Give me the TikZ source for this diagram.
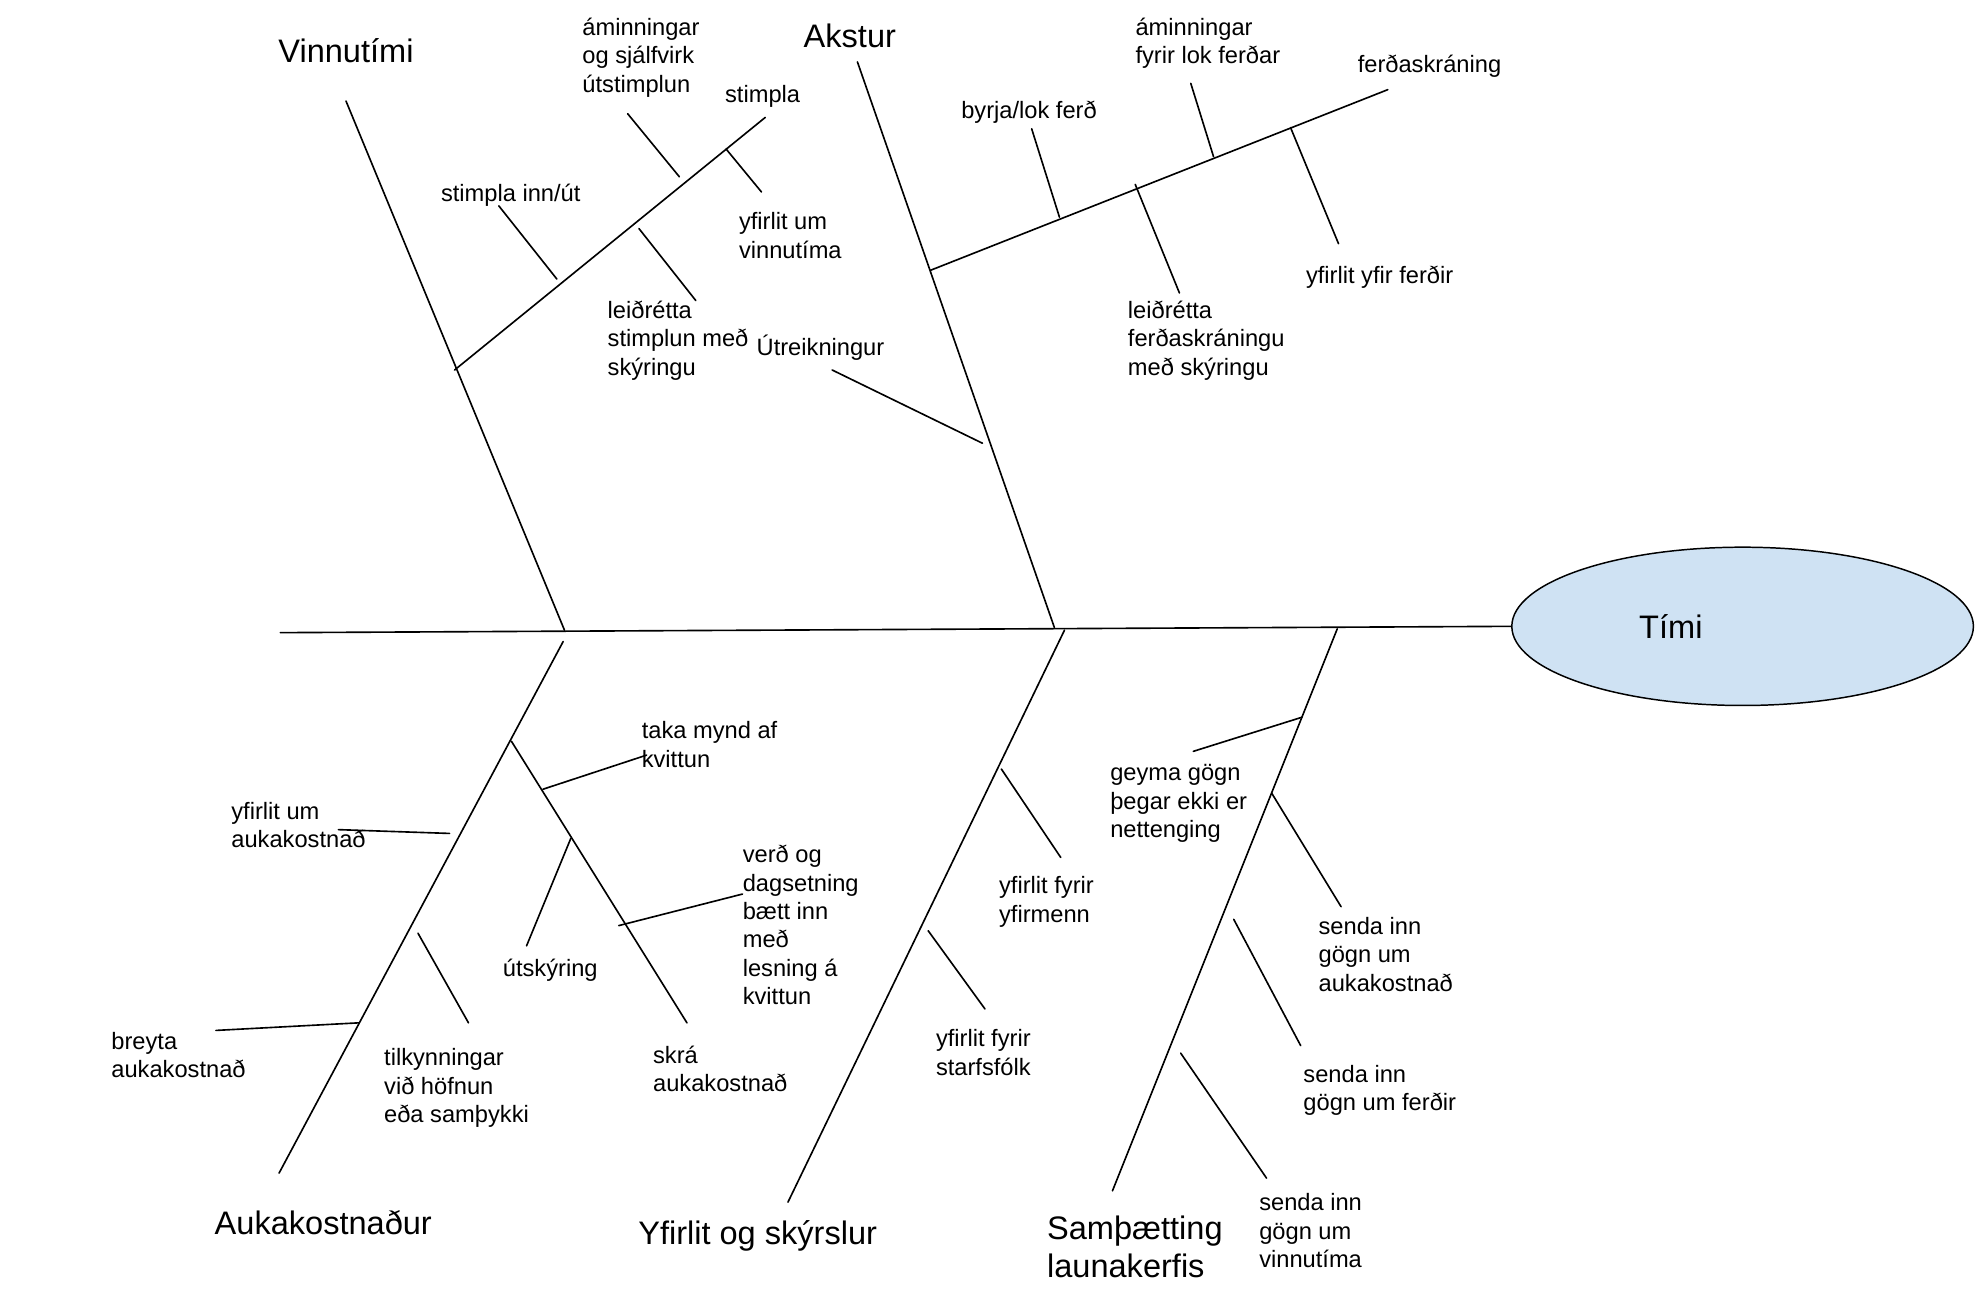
\documentclass[tikz,border=0pt]{standalone}
\usepackage{fontspec}
\setmainfont{Liberation Sans}
\usetikzlibrary{shapes.geometric}
\definecolor{ellfill}{RGB}{207,226,243}
\newcommand{\smallrule}{\rule{0pt}{15.5pt}}
\newcommand{\bigrule}{\rule{0pt}{21pt}}
\begin{document}
\begin{tikzpicture}[x=0.03cm,y=-0.03cm,
  bone/.style={line width=1.1pt, line cap=round},
  lab/.style={anchor=north west, inner sep=0pt, align=left,
    font=\fontsize{16}{19.2}\selectfont, yshift=10.2pt,
    execute at begin node=\smallrule},
  labml/.style={lab, yshift=-4.3pt},
  big/.style={inner sep=0pt, font=\fontsize{22}{25.6}\selectfont,
    text height=16pt, text depth=0pt},
  bigml/.style={anchor=north west, inner sep=0pt, align=left,
    font=\fontsize{22}{25.6}\selectfont, yshift=8.7pt,
    execute at begin node=\bigrule},
]
\useasboundingbox (0,0) rectangle (1568,1029);

% head
\node[ellipse, draw, line width=1pt, fill=ellfill, minimum width=312pt,
  minimum height=107pt, inner sep=0pt,
  font=\fontsize{22}{25.6}\selectfont] (timi) at (1380,496) {Tími\hspace*{97pt}};

% spine
\coordinate (sL) at (222,501);
\draw[bone] (sL) -- (timi.west);

% ---------- Vinnutími ----------
\node[big] (vinn) at (274,40) {Vinnutími};
\coordinate (v1) at (274,80);
\coordinate (v0) at (447,499);
\draw[bone] (v1) -- (v0);
\coordinate (vs0) at (360,293);
\coordinate (vs1) at (606,93);
\draw[bone] (vs0) -- (vs1);
\node[lab] (stimpla) at (574,75) {stimpla};
\node[lab] (stimplainn) at (349,153) {stimpla inn/út};
\coordinate (va1) at (395,163); \coordinate (va2) at (441,221);
\draw[bone] (va1) -- (va2);
\node[labml] (amin1) at (461,21) {áminningar\\og sjálfvirk\\útstimplun};
\coordinate (vb1) at (497,90); \coordinate (vb2) at (538,140);
\draw[bone] (vb1) -- (vb2);
\node[labml] (leid1) at (481,245) {leiðrétta\\stimplun með\\skýringu};
\coordinate (vc1) at (506,181); \coordinate (vc2) at (551,238);
\draw[bone] (vc1) -- (vc2);
\node[labml] (yfvinn) at (585,175) {yfirlit um\\vinnutíma};
\coordinate (vd1) at (575,118); \coordinate (vd2) at (603,152);
\draw[bone] (vd1) -- (vd2);

% ---------- Akstur ----------
\node[big] (akstur) at (673,28) {Akstur};
\coordinate (a1) at (679,49);
\coordinate (a0) at (835,497);
\draw[bone] (a1) -- (a0);
\coordinate (as0) at (737,214);
\coordinate (as1) at (1099,71);
\draw[bone] (as0) -- (as1);
\node[lab] (ferdask) at (1075,51) {ferðaskráning};
\node[lab] (byrja) at (761,87) {byrja/lok ferð};
\coordinate (aa1) at (817,102); \coordinate (aa2) at (839,172);
\draw[bone] (aa1) -- (aa2);
\node[labml] (amin2) at (899,21) {áminningar\\fyrir lok ferðar};
\coordinate (ab1) at (943,66); \coordinate (ab2) at (961,124);
\draw[bone] (ab1) -- (ab2);
\node[labml] (leid2) at (893,245) {leiðrétta\\ferðaskráningu\\með skýringu};
\coordinate (ac1) at (899,146); \coordinate (ac2) at (934,232);
\draw[bone] (ac1) -- (ac2);
\node[lab] (yfferd) at (1034,218) {yfirlit yfir ferðir};
\coordinate (ad1) at (1022,101); \coordinate (ad2) at (1060,193);
\draw[bone] (ad1) -- (ad2);
\node[lab] (utreik) at (599,275) {Útreikningur};
\coordinate (ae1) at (659,293); \coordinate (ae2) at (778,351);
\draw[bone] (ae1) -- (ae2);

% ---------- Aukakostnaður ----------
\node[big] (auka) at (256,968) {Aukakostnaður};
\coordinate (k0) at (446,508);
\coordinate (k1) at (221,929);
\draw[bone] (k0) -- (k1);
\coordinate (ks0) at (405,587);
\coordinate (ks1) at (544,810);
\draw[bone] (ks0) -- (ks1);
\node[labml] (skra) at (517,835) {skrá\\aukakostnað};
\node[labml] (taka) at (508,578) {taka mynd af\\kvittun};
\coordinate (ka1) at (430,625); \coordinate (ka2) at (512,598);
\draw[bone] (ka1) -- (ka2);
\node[lab] (utsk) at (398,767) {útskýring};
\coordinate (kb1) at (452,664); \coordinate (kb2) at (417,749);
\draw[bone] (kb1) -- (kb2);
\node[labml] (verd) at (588,676) {verð og\\dagsetning\\bætt inn\\með\\lesning á\\kvittun};
\coordinate (kc1) at (490,733); \coordinate (kc2) at (588,708);
\draw[bone] (kc1) -- (kc2);
\node[labml] (yfauka) at (183,642) {yfirlit um\\aukakostnað};
\coordinate (kd1) at (268,657); \coordinate (kd2) at (356,660);
\draw[bone] (kd1) -- (kd2);
\node[labml] (tilk) at (304,837) {tilkynningar\\við höfnun\\eða samþykki};
\coordinate (ke1) at (331,739); \coordinate (ke2) at (371,810);
\draw[bone] (ke1) -- (ke2);
\node[labml] (breyta) at (88,824) {breyta\\aukakostnað};
\coordinate (kf1) at (171,816); \coordinate (kf2) at (284,810);
\draw[bone] (kf1) -- (kf2);

% ---------- Yfirlit og skýrslur ----------
\node[big] (yfirlit) at (600,976) {Yfirlit og skýrslur};
\coordinate (y0) at (843,499);
\coordinate (y1) at (624,952);
\draw[bone] (y0) -- (y1);
\node[labml] (yfyfir) at (791,701) {yfirlit fyrir\\yfirmenn};
\coordinate (ya1) at (793,609); \coordinate (ya2) at (840,679);
\draw[bone] (ya1) -- (ya2);
\node[labml] (yfstarf) at (741,822) {yfirlit fyrir\\starfsfólk};
\coordinate (yb1) at (735,737); \coordinate (yb2) at (780,799);
\draw[bone] (yb1) -- (yb2);

% ---------- Samþætting launakerfis ----------
\node[bigml] (samth) at (829,973) {Samþætting\\launakerfis};
\coordinate (s0) at (1059,498);
\coordinate (s1) at (881,943);
\draw[bone] (s0) -- (s1);
\node[labml] (geyma) at (879,612) {geyma gögn\\þegar ekki er\\nettenging};
\coordinate (sa1) at (945,595); \coordinate (sa2) at (1031,568);
\draw[bone] (sa1) -- (sa2);
\node[labml] (senda1) at (1044,733) {senda inn\\gögn um\\aukakostnað};
\coordinate (sb1) at (1007,628); \coordinate (sb2) at (1062,718);
\draw[bone] (sb1) -- (sb2);
\node[labml] (senda2) at (1032,850) {senda inn\\gögn um ferðir};
\coordinate (sc1) at (977,728); \coordinate (sc2) at (1030,828);
\draw[bone] (sc1) -- (sc2);
\node[labml] (senda3) at (997,952) {senda inn\\gögn um\\vinnutíma};
\coordinate (sd1) at (935,834); \coordinate (sd2) at (1003,933);
\draw[bone] (sd1) -- (sd2);
\end{tikzpicture}
\end{document}
